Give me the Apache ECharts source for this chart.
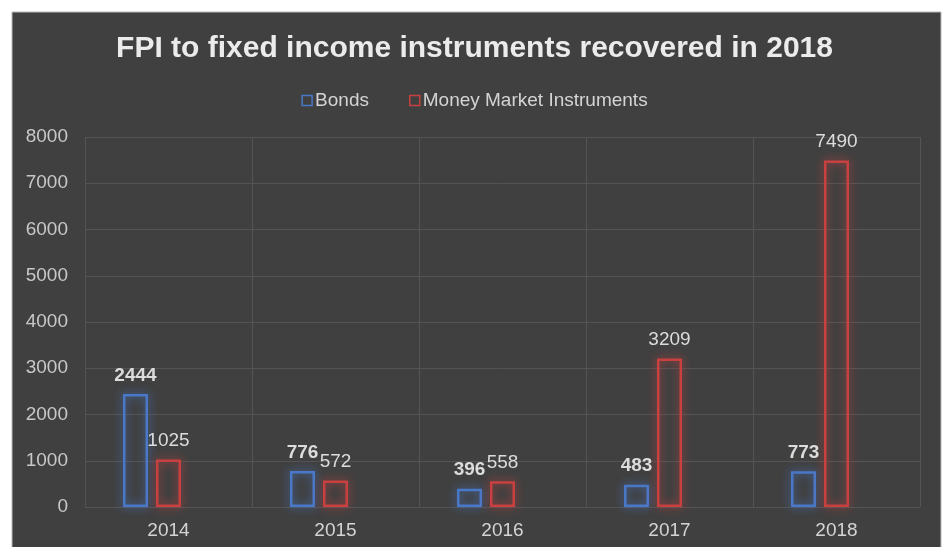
<!DOCTYPE html>
<html>
<head>
<meta charset="utf-8">
<script src="https://cdn.jsdelivr.net/npm/echarts@6/dist/echarts.min.js"></script>
<style>
html,body{margin:0;padding:0;background:#ffffff;}
#main{width:949px;height:547px;}
</style>
</head>
<body>
<div id="main"></div>
<script>
const categories = ['2014', '2015', '2016', '2017', '2018'];
const bonds = [2444, 776, 396, 483, 773];
const moneyMarket = [1025, 572, 558, 3209, 7490];
const spacer = ['-', '-', '-', '-', '-'];
const yTicks = { min: 0, max: 8000, interval: 1000 };

const chart = echarts.init(document.getElementById('main'), null, { renderer: 'canvas' });
const FONT = 'Liberation Sans, Arial, sans-serif';

function barSeries(name, data, color, bold) {
  return {
    name: name,
    type: 'bar',
    data: data,
    barWidth: 25,
    barGap: '32%',
    itemStyle: {
      color: 'transparent',
      borderColor: color,
      borderWidth: 2.5,
      shadowBlur: 10,
      shadowColor: color
    },
    label: {
      show: true,
      position: 'top',
      distance: 9,
      color: '#dcdcdc',
      fontFamily: FONT,
      fontSize: 19,
      fontWeight: bold ? 'bold' : 'normal'
    }
  };
}

chart.setOption({
  backgroundColor: 'transparent',
  animation: false,
  graphic: [{
    type: 'rect',
    z: -10,
    silent: true,
    shape: { x: 12, y: 12, width: 929, height: 540 },
    style: { fill: '#404040', stroke: '#b8b8b8', lineWidth: 1 }
  }],
  title: {
    text: 'FPI to fixed income instruments recovered in 2018',
    left: 'center',
    top: 29,
    textStyle: { color: '#ebebeb', fontFamily: FONT, fontSize: 30, fontWeight: 'bold' }
  },
  legend: {
    top: 86,
    left: 'center',
    itemWidth: 10,
    itemHeight: 10,
    itemGap: 40,
    icon: 'rect',
    data: [
      { name: 'Bonds', itemStyle: { color: '#404040', borderColor: '#4a78c8', borderWidth: 1.5 } },
      { name: 'Money Market Instruments', itemStyle: { color: '#404040', borderColor: '#c84040', borderWidth: 1.5 } }
    ],
    textStyle: { color: '#d4d4d4', fontFamily: FONT, fontSize: 19, padding: [0, 0, 0, -2] }
  },
  grid: { left: 85, right: 29, top: 137, bottom: 40, containLabel: false },
  xAxis: {
    type: 'category',
    data: categories,
    axisLine: { show: false },
    axisTick: { show: false },
    splitLine: { show: true, lineStyle: { color: '#545454', width: 1 } },
    axisLabel: { color: '#d4d4d4', fontFamily: FONT, fontSize: 19, margin: 14 }
  },
  yAxis: {
    type: 'value',
    min: yTicks.min,
    max: yTicks.max,
    interval: yTicks.interval,
    axisLine: { show: false },
    axisTick: { show: false },
    splitLine: { show: true, lineStyle: { color: '#545454', width: 1 } },
    axisLabel: { color: '#c8c8c8', fontFamily: FONT, fontSize: 19, margin: 17, formatter: function (v) { return String(v); } }
  },
  series: [
    barSeries('Bonds', bonds, '#4a78c8', true),
    barSeries('Money Market Instruments', moneyMarket, '#c84040', false),
    { name: 'spacer', type: 'bar', data: spacer, barWidth: 25, barGap: '32%', itemStyle: { color: 'transparent' } }
  ]
});
</script>
</body>
</html>
